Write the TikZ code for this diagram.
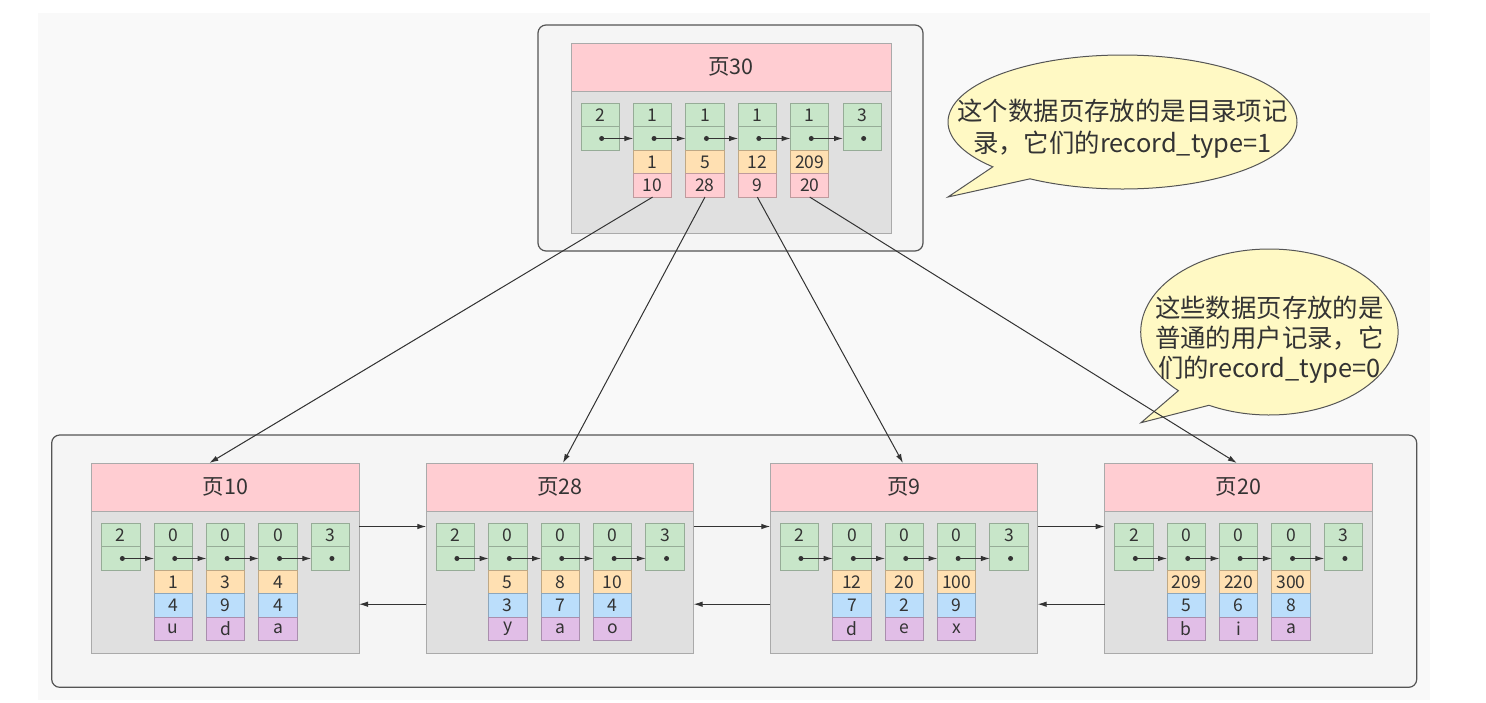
\documentclass[tikz,border=0pt]{standalone}
\usepackage{fontspec}
\setmainfont{Noto Sans CJK SC}
\usetikzlibrary{arrows.meta,calc}
\definecolor{bgc}{HTML}{F9F9F9}
\definecolor{contfill}{HTML}{F5F5F5}
\definecolor{contstroke}{HTML}{555555}
\definecolor{pstroke}{HTML}{AAAAAA}
\definecolor{cpink}{HTML}{FFCDD2}
\definecolor{cbody}{HTML}{E0E0E0}
\definecolor{cgreen}{HTML}{C8E6C9}
\definecolor{corange}{HTML}{FFE0B2}
\definecolor{cblue}{HTML}{BBDEFB}
\definecolor{cpurple}{HTML}{E1BEE7}
\definecolor{txt}{HTML}{333333}
\definecolor{linec}{HTML}{333333}
\definecolor{callfill}{HTML}{FFF9C4}
\tikzset{
 cont/.style={draw=contstroke, fill=contfill, line width=1.2pt, rounded corners=8pt, anchor=north west, inner sep=0pt, outer sep=0pt},
 phead/.style={draw=pstroke, fill=cpink, anchor=north west, inner sep=0pt, outer sep=0pt, minimum height=48, font=\fontsize{21.5}{24}\selectfont, text=txt, line width=1pt},
 pbody/.style={draw=pstroke, fill=cbody, anchor=north west, inner sep=0pt, outer sep=0pt, minimum height=142, line width=1pt},
 cell/.style={anchor=north west, inner sep=0pt, outer sep=0pt, minimum width=38.3, minimum height=23.45, font=\fontsize{17.5}{18}\selectfont, text=txt, line width=1pt},
 cg/.style={cell, fill=cgreen, draw=cgreen!75!black},
 co/.style={cell, fill=corange, draw=corange!75!black},
 cb/.style={cell, fill=cblue, draw=cblue!75!black},
 cv/.style={cell, fill=cpurple, draw=cpurple!75!black},
 cp/.style={cell, fill=cpink, draw=cpink!75!black},
 link/.style={-{Latex[length=9pt,width=5.5pt]}, draw=linec, line width=1pt},
 dotc/.style={fill=linec},
 callout/.style={fill=callfill, draw=contstroke, line width=1pt},
 ctext/.style={align=center, text=txt, inner sep=0pt},
}
\newcommand\mkpage[4]{%
 \node[phead, minimum width=267.3] (#1h) at (#2,463) {#3};
 \node[pbody, minimum width=267.3] (#1b) at (#2,511) {};
 \foreach \i/\t in {0/2,1/0,2/0,3/0,4/3} {
   \node[cg] (#1-\i-a) at ({#2+10+52.4*\i},523.3) {\t};
   \node[cg] (#1-\i-b) at ({#2+10+52.4*\i},546.75) {};
 }
 \foreach \i/\o/\u/\c in {#4} {
   \node[co] (#1-\i-c) at ({#2+10+52.4*\i},570.2) {\o};
   \node[cb] (#1-\i-d) at ({#2+10+52.4*\i},593.65) {\u};
   \node[cv] (#1-\i-e) at ({#2+10+52.4*\i},617.1) {\c};
 }
 \foreach \i/\j in {0/1,1/2,2/3,3/4} {
   \draw[link] ($(#1-\i-b.center)+(1.5,0)$) -- (#1-\j-b.west);
 }
 \foreach \i in {0,...,4} {
   \fill[dotc] ($(#1-\i-b.center)+(1.5,0)$) circle (2.5);
 }
}
\begin{document}
\begin{tikzpicture}[x=1pt,y=-1pt]
\useasboundingbox (0,0) rectangle (1486,702);
\fill[bgc] (38,13) rectangle (1430,700);

% top container and page 30
\node[cont, minimum width=385, minimum height=226] (c30) at (538,25) {};
\node[phead, minimum width=320] (p30h) at (571,43) {页30};
\node[pbody, minimum width=320] (p30b) at (571,91) {};
\foreach \i/\t in {0/2,1/1,2/1,3/1,4/1,5/3} {
  \node[cg] (t-\i-a) at ({581+52.4*\i},103.3) {\t};
  \node[cg] (t-\i-b) at ({581+52.4*\i},126.75) {};
}
\foreach \i/\o/\p in {1/1/10,2/5/28,3/12/9,4/209/20} {
  \node[co] (t-\i-c) at ({581+52.4*\i},150.2) {\o};
  \node[cp] (t-\i-d) at ({581+52.4*\i},173.65) {\p};
}
\foreach \i/\j in {0/1,1/2,2/3,3/4,4/5} {
  \draw[link] ($(t-\i-b.center)+(1.5,0)$) -- (t-\j-b.west);
}
\foreach \i in {0,...,5} {
  \fill[dotc] ($(t-\i-b.center)+(1.5,0)$) circle (2.5);
}

% bottom container and leaf pages
\node[cont, minimum width=1365, minimum height=252.3] (cbot) at (51.7,435) {};
\mkpage{pa}{91.7}{页10}{1/1/4/u,2/3/9/d,3/4/4/a}
\mkpage{pb}{426.3}{页28}{1/5/3/y,2/8/7/a,3/10/4/o}
\mkpage{pc}{770.3}{页9}{1/12/7/d,2/20/2/e,3/100/9/x}
\mkpage{pd}{1104.7}{页20}{1/209/5/b,2/220/6/i,3/300/8/a}

\coordinate (yf) at (0,526.5);
\coordinate (yb) at (0,604.2);
\draw[link] (pab.east |- yf) -- (pbb.west |- yf);
\draw[link] (pbb.east |- yf) -- (pcb.west |- yf);
\draw[link] (pcb.east |- yf) -- (pdb.west |- yf);
\draw[link] (pdb.west |- yb) -- (pcb.east |- yb);
\draw[link] (pcb.west |- yb) -- (pbb.east |- yb);
\draw[link] (pbb.west |- yb) -- (pab.east |- yb);

% callouts
\filldraw[callout] (948,197) -- ({1122.5+174.5*cos(138)},{122+67*sin(138)})
  arc[start angle=138, end angle=482, x radius=174.5, y radius=67] -- cycle;
\node[ctext, font=\fontsize{25.4}{32}\selectfont] (k1) at (1122.5,129) {这个数据页存放的是目录项记\\录，它们的record\_type=1};
\filldraw[callout] (1141,422.7) -- ({1269.4+128.7*cos(135)},{332+83*sin(135)})
  arc[start angle=135, end angle=478, x radius=128.7, y radius=83] -- cycle;
\node[ctext, font=\fontsize{25.4}{30}\selectfont] (k2) at (1269.4,340) {这些数据页存放的是\\普通的用户记录，它\\们的record\_type=0};

% index links
\draw[link] (t-1-d.south) -- ($(pah.north)+(-16,0)$);
\draw[link] (t-2-d.south) -- ($(pbh.north)+(3,0)$);
\draw[link] (t-3-d.south) -- ($(pch.north)+(-1,0)$);
\draw[link] (t-4-d.south) -- ($(pdh.north)+(-1.5,0)$);
\end{tikzpicture}
\end{document}
